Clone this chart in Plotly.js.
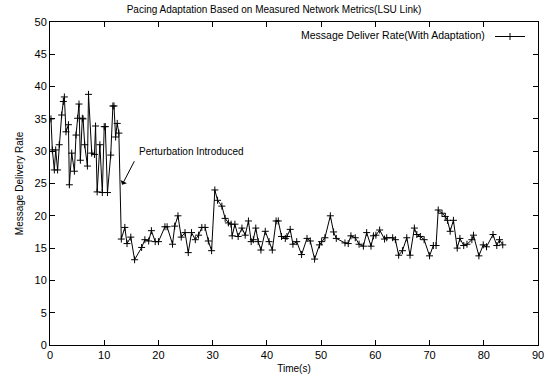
<!DOCTYPE html>
<html>
<head>
<meta charset="utf-8">
<script src="https://cdn.plot.ly/plotly-3.0.1.min.js"></script>
<style>html,body{margin:0;padding:0;background:#fff;}#chart{width:548px;height:379px;}</style>
</head>
<body>
<div id="chart"></div>
<script>
const timeSec = [0.18,0.43,0.8,1.05,1.4,1.7,2.15,2.46,2.65,2.95,3.4,3.57,4.0,4.5,4.8,5.1,5.35,5.6,5.96,6.1,6.4,6.9,7.1,7.7,8.2,8.4,8.7,9.2,9.65,10.0,10.2,10.6,11.2,11.6,11.8,12.1,12.4,12.7,
  13.15,13.8,14.2,14.9,15.6,16.9,17.5,18.2,18.7,19.4,20.0,21.2,21.6,22.6,23.0,23.6,24.2,24.9,25.5,26.1,26.8,
  27.4,28.0,28.6,29.2,29.8,30.4,30.9,31.7,32.3,32.9,33.4,33.6,34.1,34.7,35.4,36.0,36.6,37.1,37.5,37.95,38.4,38.9,39.7,40.4,41.0,
  41.7,42.1,42.7,43.4,43.7,44.3,44.8,45.5,46.4,47.4,48.0,48.8,49.7,50.1,50.7,51.7,52.3,52.8,54.4,55.0,
  55.5,56.3,57.0,57.8,58.4,59.2,59.65,60.1,60.8,61.7,62.1,63.2,63.7,64.3,65.0,65.8,66.4,67.2,67.65,68.3,69.0,
  70.0,70.7,71.2,71.6,72.3,72.9,73.3,73.8,74.4,75.1,75.6,76.3,76.9,77.8,78.1,79.1,79.9,80.5,81.7,82.4,82.9,83.5];
const deliveryRate = [35.0,30.2,27.1,30.2,27.1,31.0,35.6,37.7,38.4,33.0,34.1,24.8,29.7,26.9,32.5,35.1,37.3,28.6,35.1,35.0,31.0,27.7,38.8,29.7,29.5,33.9,23.7,31.0,23.6,33.8,33.8,23.6,29.4,37.0,37.0,32.2,34.3,32.8,
  16.4,18.2,15.7,16.7,13.2,15.1,16.3,16.1,17.7,16.0,16.0,18.3,18.3,15.6,18.4,20.0,16.7,17.4,14.3,17.4,16.3,
  17.0,18.2,18.2,16.1,14.6,24.0,22.4,21.5,19.6,18.9,18.7,16.9,18.7,16.8,18.1,17.0,19.2,16.0,16.3,18.1,16.0,14.7,17.6,16.0,14.7,
  19.2,19.2,16.8,16.5,16.8,17.9,15.6,16.0,14.0,16.5,16.1,13.3,15.5,16.0,16.6,20.0,17.5,16.5,15.8,15.7,
  16.9,16.6,15.6,15.3,17.4,15.3,16.9,17.0,17.8,16.4,16.6,16.6,16.3,13.9,14.6,16.6,13.9,18.1,17.1,16.8,16.3,
  13.8,15.4,15.4,20.9,20.4,19.9,19.3,17.6,19.3,15.0,16.5,15.4,15.6,16.3,17.0,13.8,15.5,15.2,17.1,15.4,16.3,15.5];
const seriesName = 'Message Deliver Rate(With Adaptation)';
const xTicks = [0,10,20,30,40,50,60,70,80,90];
const yTicks = [0,5,10,15,20,25,30,35,40,45,50];

const font = {family: 'Liberation Sans, Arial, sans-serif', color: '#000'};
const trace = {
  x: timeSec, y: deliveryRate, type: 'scatter', mode: 'lines+markers',
  name: ' ', showlegend: true,
  line: {color: '#000', width: 1},
  marker: {symbol: 'cross-thin', size: 5, line: {color: '#000', width: 1}, color: '#000'}
};
const axisBase = {
  showgrid: false, zeroline: false, showline: true, mirror: 'ticks',
  linecolor: '#000', linewidth: 1, ticks: 'inside', ticklen: 5, tickcolor: '#000',
  tickfont: Object.assign({size: 11}, font)
};
const layout = {
  width: 548, height: 379,
  margin: {l: 50, r: 10, t: 22, b: 34},
  paper_bgcolor: '#fff', plot_bgcolor: '#fff',
  font: font,
  title: {text: 'Pacing Adaptation Based on Measured Network Metrics(LSU Link)', font: Object.assign({size: 10}, font), x: 0.5, xanchor: 'center', y: 0.975, yanchor: 'middle'},
  xaxis: Object.assign({}, axisBase, {range: [0, 90], tickvals: xTicks, title: {text: 'Time(s)', font: Object.assign({size: 10}, font), standoff: 4}}),
  yaxis: Object.assign({}, axisBase, {range: [0, 50], tickvals: yTicks, title: {text: 'Message Delivery Rate', font: Object.assign({size: 10}, font), standoff: 9}}),
  legend: {x: 1, xanchor: 'right', y: 1, yanchor: 'top', bgcolor: 'rgba(0,0,0,0)', font: Object.assign({size: 10}, font), itemwidth: 30, tracegroupgap: 0},
  annotations: [
    {xref: 'paper', yref: 'paper', x: 0.895, y: 0.96, xanchor: 'right', yanchor: 'middle', text: seriesName, showarrow: false, font: Object.assign({size: 10.5}, font)},
    {x: 16.0, y: 29.9, xanchor: 'left', yanchor: 'middle', text: 'Perturbation Introduced', showarrow: false, font: Object.assign({size: 10}, font)},
    {x: 13.3, y: 24.8, text: '', showarrow: true, ax: 13, ay: -25, arrowhead: 1, arrowsize: 1.2, arrowwidth: 1, arrowcolor: '#000'}
  ]
};
Plotly.newPlot('chart', [trace], layout, {displayModeBar: false, staticPlot: true});
</script>
</body>
</html>
